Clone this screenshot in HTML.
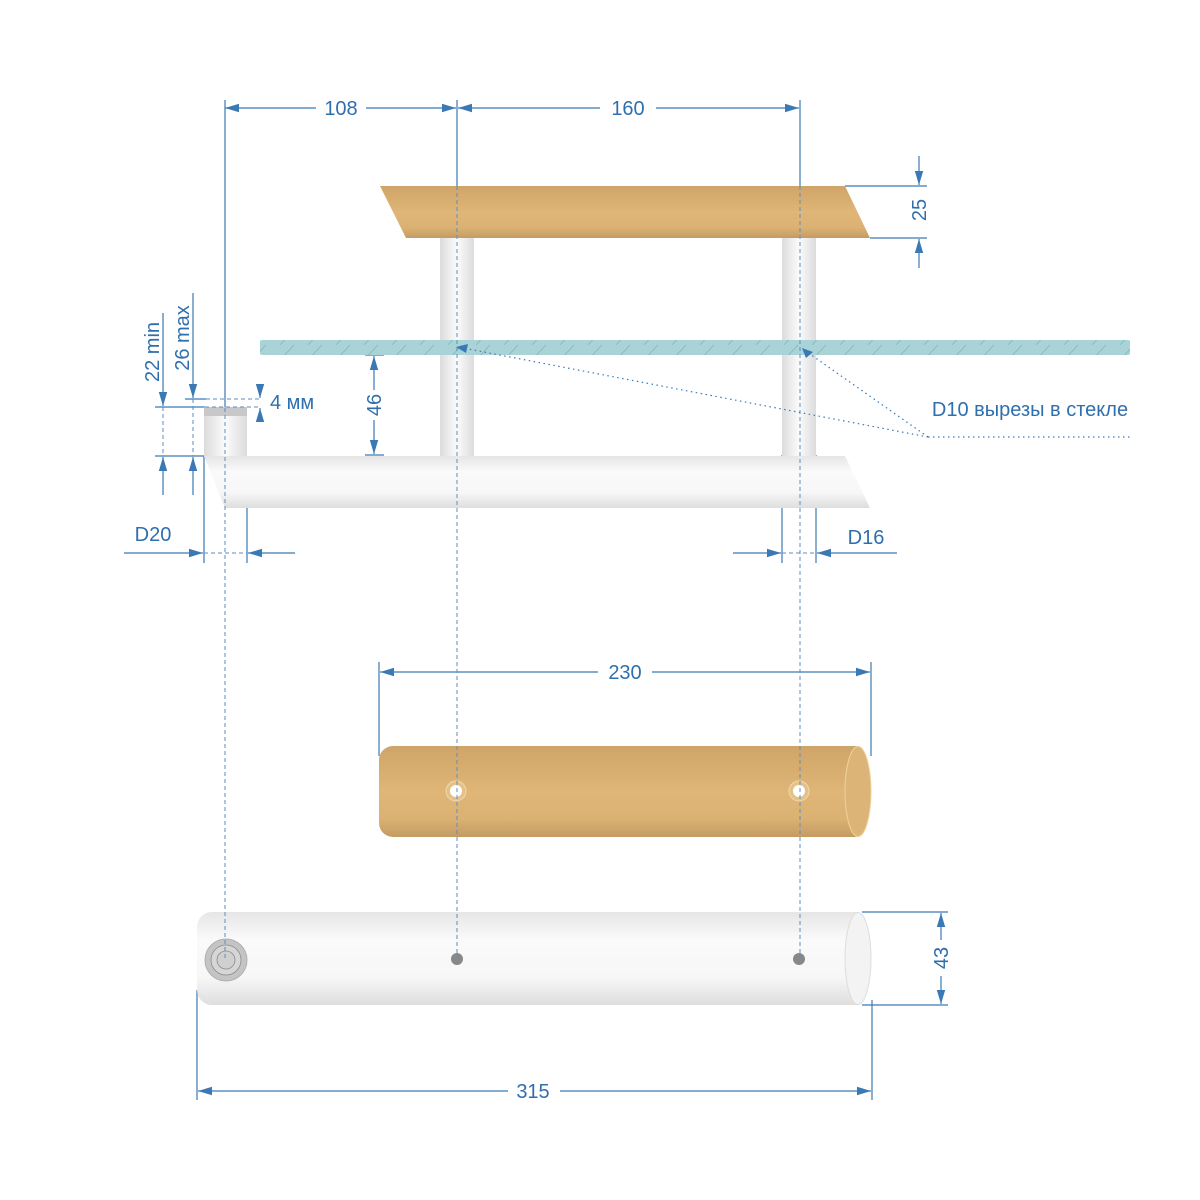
<!DOCTYPE html>
<html><head><meta charset="utf-8"><style>html,body{margin:0;padding:0;background:#fff}svg{display:block}</style></head>
<body>
<svg width="1200" height="1200" viewBox="0 0 1200 1200" xmlns="http://www.w3.org/2000/svg" font-family="Liberation Sans, DejaVu Sans, sans-serif">
<defs>
<linearGradient id="tan" x1="0" y1="0" x2="0" y2="1"><stop offset="0" stop-color="#cfa468"/><stop offset="0.5" stop-color="#dfb677"/><stop offset="0.8" stop-color="#dbb273"/><stop offset="1" stop-color="#c49b63"/></linearGradient>
<linearGradient id="wh" x1="0" y1="0" x2="0" y2="1"><stop offset="0" stop-color="#e6e6e6"/><stop offset="0.3" stop-color="#fafafa"/><stop offset="0.7" stop-color="#f7f7f7"/><stop offset="1" stop-color="#dedede"/></linearGradient>
<linearGradient id="post" x1="0" y1="0" x2="1" y2="0"><stop offset="0" stop-color="#dcdcdc"/><stop offset="0.5" stop-color="#fbfbfb"/><stop offset="1" stop-color="#dcdcdc"/></linearGradient>
<marker id="a" viewBox="0 0 10 10" refX="10" refY="5" markerWidth="14" markerHeight="14" markerUnits="userSpaceOnUse" orient="auto-start-reverse"><path d="M0,2 L10,5 L0,8z" fill="#3b79b5"/></marker>
<pattern id="hatch" width="28" height="15" patternUnits="userSpaceOnUse"><path d="M0,15 L14,0" stroke="#7fb7bb" stroke-width="0.8"/></pattern>
</defs>
<g stroke="#3b79b5" stroke-width="1.2" fill="none">
<line x1="225" y1="100" x2="225" y2="408"/>
<line x1="457" y1="100" x2="457" y2="186"/>
<line x1="800" y1="100" x2="800" y2="186"/>
<line x1="225" y1="108" x2="316" y2="108" marker-start="url(#a)"/>
<line x1="366" y1="108" x2="456" y2="108" marker-end="url(#a)"/>
<line x1="458" y1="108" x2="600" y2="108" marker-start="url(#a)"/>
<line x1="656" y1="108" x2="799" y2="108" marker-end="url(#a)"/>
<line x1="845" y1="186" x2="927" y2="186"/><line x1="870" y1="238" x2="927" y2="238"/>
<line x1="919" y1="156" x2="919" y2="185" marker-end="url(#a)"/>
<line x1="919" y1="268" x2="919" y2="239" marker-end="url(#a)"/>
<line x1="365" y1="355" x2="384" y2="355"/><line x1="365" y1="455" x2="384" y2="455"/>
<line x1="374" y1="356" x2="374" y2="390" marker-start="url(#a)"/>
<line x1="374" y1="420" x2="374" y2="454" marker-end="url(#a)"/>
<line x1="260" y1="386" x2="260" y2="398" marker-end="url(#a)"/>
<line x1="260" y1="420" x2="260" y2="408" marker-end="url(#a)"/>
<line x1="185" y1="399" x2="206" y2="399"/>
<line x1="155" y1="407" x2="205" y2="407"/>
<line x1="155" y1="456" x2="205" y2="456"/>
<line x1="163" y1="313" x2="163" y2="406" marker-end="url(#a)"/>
<line x1="163" y1="495" x2="163" y2="457" marker-end="url(#a)"/>
<line x1="193" y1="293" x2="193" y2="398" marker-end="url(#a)"/>
<line x1="193" y1="495" x2="193" y2="457" marker-end="url(#a)"/>
<line x1="204" y1="456" x2="204" y2="563"/><line x1="247" y1="456" x2="247" y2="563"/>
<line x1="124" y1="553" x2="203" y2="553" marker-end="url(#a)"/>
<line x1="295" y1="553" x2="248" y2="553" marker-end="url(#a)"/>
<line x1="782" y1="455" x2="782" y2="563"/><line x1="816" y1="455" x2="816" y2="563"/>
<line x1="733" y1="553" x2="781" y2="553" marker-end="url(#a)"/>
<line x1="897" y1="553" x2="817" y2="553" marker-end="url(#a)"/>
<line x1="379" y1="662" x2="379" y2="756"/><line x1="871" y1="662" x2="871" y2="756"/>
<line x1="380" y1="672" x2="598" y2="672" marker-start="url(#a)"/>
<line x1="652" y1="672" x2="870" y2="672" marker-end="url(#a)"/>
<line x1="862" y1="912" x2="948" y2="912"/><line x1="862" y1="1005" x2="948" y2="1005"/>
<line x1="941" y1="913" x2="941" y2="940" marker-start="url(#a)"/>
<line x1="941" y1="976" x2="941" y2="1004" marker-end="url(#a)"/>
<line x1="197" y1="990" x2="197" y2="1100"/><line x1="872" y1="1000" x2="872" y2="1100"/>
<line x1="198" y1="1091" x2="508" y2="1091" marker-start="url(#a)"/>
<line x1="560" y1="1091" x2="871" y2="1091" marker-end="url(#a)"/>
</g>
<polygon points="380,186 845,186 870,238 406,238" fill="url(#tan)"/>
<rect x="440" y="238" width="34" height="218" fill="url(#post)"/>
<rect x="782" y="238" width="34" height="218" fill="url(#post)"/>
<rect x="260" y="340" width="870" height="15" rx="2" fill="#a9d3d7"/>
<rect x="260" y="340" width="870" height="15" fill="url(#hatch)"/>
<rect x="204" y="407" width="43" height="50" fill="url(#post)"/>
<rect x="204" y="407" width="43" height="9" fill="#c8c8c8"/>
<polygon points="204,456 845,456 870,508 225,508" fill="url(#wh)"/>
<path d="M393,746 H858 A13,45.5 0 0 1 858,837 H393 A14,14 0 0 1 379,823 V760 A14,14 0 0 1 393,746z" fill="url(#tan)"/>
<ellipse cx="858" cy="791.5" rx="13" ry="45" fill="#dcb478" stroke="#efd39e" stroke-width="1"/>
<circle cx="456" cy="791" r="10" fill="#e4c189" stroke="#f1d9ac" stroke-width="1"/><circle cx="456" cy="791" r="6" fill="#fff"/>
<circle cx="799" cy="791" r="10" fill="#e4c189" stroke="#f1d9ac" stroke-width="1"/><circle cx="799" cy="791" r="6" fill="#fff"/>
<path d="M212,912 H858 A13,46.5 0 0 1 858,1005 H212 A15,15 0 0 1 197,990 V927 A15,15 0 0 1 212,912z" fill="url(#wh)"/>
<ellipse cx="858" cy="958.5" rx="13" ry="46" fill="#f3f3f3" stroke="#dddddd" stroke-width="1"/>
<circle cx="226" cy="960" r="21" fill="#c4c4c4" stroke="#b0b0b0"/>
<circle cx="226" cy="960" r="15" fill="#d6d6d6" stroke="#8a8a8a" stroke-width="0.8"/>
<circle cx="226" cy="960" r="9" fill="#d0d0d0" stroke="#8a8a8a" stroke-width="0.8"/>
<circle cx="457" cy="959" r="6" fill="#888"/>
<circle cx="799" cy="959" r="6" fill="#888"/>
<g stroke="#5b8fc2" stroke-width="1" stroke-dasharray="4,3" fill="none">
<line x1="457" y1="186" x2="457" y2="957"/>
<line x1="800" y1="186" x2="800" y2="957"/>
<line x1="225" y1="408" x2="225" y2="960"/>
<line x1="163" y1="407" x2="163" y2="456"/>
<line x1="193" y1="399" x2="193" y2="456"/>
<line x1="204" y1="553" x2="247" y2="553"/>
<line x1="782" y1="553" x2="816" y2="553"/>
<line x1="206" y1="399" x2="260" y2="399"/>
<line x1="205" y1="407" x2="260" y2="407"/>
</g>
<g stroke="#3b79b5" stroke-width="1.2" stroke-dasharray="1.5,3.5" fill="none">
<line x1="928" y1="437" x2="1130" y2="437"/>
<line x1="928" y1="437" x2="463" y2="348"/>
<line x1="928" y1="437" x2="810" y2="354"/>
</g>
<path d="M456,347 L468,344 L466,353z" fill="#3b79b5"/>
<path d="M802,348 L813,352 L806,358z" fill="#3b79b5"/>
<g fill="#2f6fae" font-size="20">
<text x="341" y="115" text-anchor="middle">108</text>
<text x="628" y="115" text-anchor="middle">160</text>
<text x="625" y="679" text-anchor="middle">230</text>
<text x="533" y="1098" text-anchor="middle">315</text>
<text x="153" y="541" text-anchor="middle">D20</text>
<text x="866" y="544" text-anchor="middle">D16</text>
<text x="270" y="409">4 мм</text>
<text x="1030" y="416" text-anchor="middle">D10 вырезы в стекле</text>
<text transform="translate(926,210) rotate(-90)" text-anchor="middle">25</text>
<text transform="translate(381,405) rotate(-90)" text-anchor="middle">46</text>
<text transform="translate(948,958) rotate(-90)" text-anchor="middle">43</text>
<text transform="translate(159,352) rotate(-90)" text-anchor="middle">22 min</text>
<text transform="translate(189,338) rotate(-90)" text-anchor="middle">26 max</text>
</g>
</svg>
</body></html>
